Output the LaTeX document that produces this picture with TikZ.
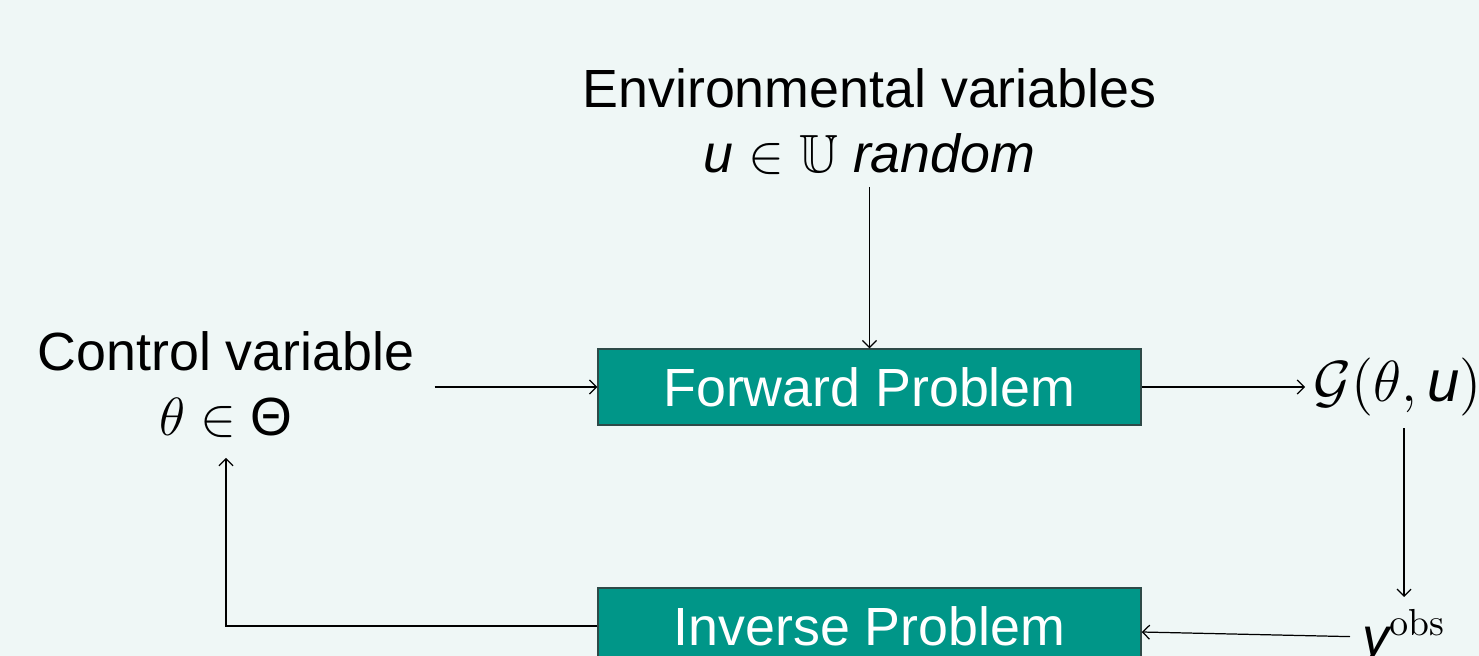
\documentclass[tikz,border=0pt]{standalone}
\usepackage{fix-cm}
\usepackage{amsmath, amssymb}
\usepackage[no-math]{fontspec}
\setmainfont{Liberation Sans}
\usepackage{tikz}
\usetikzlibrary{positioning,arrows.meta}
\definecolor{slidebg}{HTML}{EFF7F6}
\definecolor{probteal}{HTML}{009688}
\definecolor{probedge}{HTML}{2E4A48}
\tikzset{
  flowarrow/.style={-{Straight Barb[length=2pt,width=4pt]}, line width=0.35pt},
  probbox/.style={draw=probedge, line width=0.4pt, fill=probteal, text=white, minimum width=5.43cm, minimum height=0.76cm, inner sep=0pt},
  varlabel/.style={align=center, text=black}
}

\begin{document}
\begin{tikzpicture}[every node/.style={font=\fontsize{15.3}{18.5}\selectfont}]
  \fill[slidebg] (0,0) rectangle (14.79,6.56);
  \useasboundingbox (0,0) rectangle (14.79,6.56);
  \node[probbox] (fwd) at (8.695,2.69) {Forward Problem};
  \node[probbox] (inv) at (8.695,0.30) {Inverse Problem};
  \node[varlabel, anchor=south] (envvar) at (8.695,4.69) {Environmental variables\\ $\textit{u} \in \mathbb{U}$ \textit{random}};
  \node[varlabel, anchor=south, inner ysep=0.2cm] (ctrl) at (2.26,1.98) {Control variable\\ $\theta \in \mbox{Θ}$};
  \node[varlabel, anchor=west, inner xsep=0.08cm, font=\fontsize{16.5}{19}\selectfont] (model) at (13.05,2.69) {$\mathcal{G}(\theta, \mbox{\itshape u})$};
  \node[varlabel, anchor=north] (obs) at (14.04,0.59) {$\mbox{\itshape y}^{\mathrm{obs}}$};
  \draw[flowarrow] (envvar) -- (fwd);
  \draw[flowarrow, shorten <=0.08cm] (ctrl.east |- fwd) -- (fwd);
  \draw[flowarrow] (fwd) -- (model);
  \draw[flowarrow] (obs |- model.south) -- (obs);
  \draw[flowarrow] (obs) -- (inv);
  \draw[flowarrow] (inv) -| (ctrl);
\end{tikzpicture}
\end{document}
